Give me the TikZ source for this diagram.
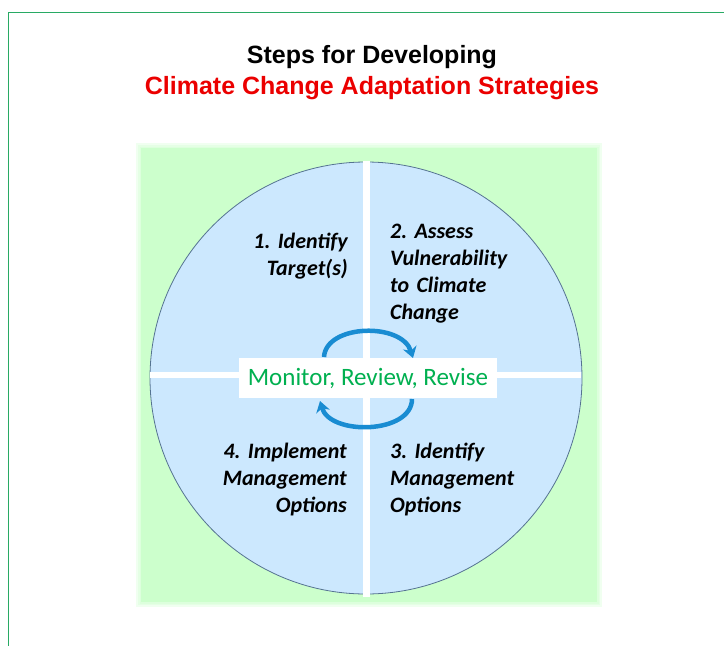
\documentclass[tikz,border=0pt]{standalone}
\usepackage{fontspec}
\setmainfont{Carlito}
\newfontfamily\arialfont{Liberation Sans}
\usetikzlibrary{arrows.meta}
\definecolor{frame}{RGB}{40,170,100}
\definecolor{bggreen}{RGB}{204,255,204}
\definecolor{circblue}{RGB}{204,232,254}
\definecolor{circline}{RGB}{85,115,145}
\definecolor{titlered}{RGB}{235,0,0}
\definecolor{mongreen}{RGB}{0,176,80}
\definecolor{arrblue}{RGB}{25,140,210}
\tikzset{
  steptext/.style={font=\frenchspacing\fontsize{22}{27}\selectfont\bfseries\itshape, inner sep=0pt, text width=130pt},
  titletext/.style={font=\arialfont\bfseries\fontsize{25}{30}\selectfont, inner sep=0pt},
  cyclearrow/.style={arrblue, line width=4.5pt, -{Stealth[length=11pt,width=14pt]}},
  whitebar/.style={fill=white, draw=none}
}
\begin{document}
\begin{tikzpicture}[x=1pt,y=-1pt]
\useasboundingbox (0,0) rectangle (724,646);
% frame lines
\draw[frame, line width=0.7pt] (8,12) -- (724,12);
\draw[frame, line width=0.7pt] (8,12) -- (8,646);
% green background with soft edge
\foreach \e in {5,3,1.5} {
  \fill[bggreen, fill opacity=0.3] (141-\e,148-\e) rectangle (597+\e,602+\e);
}
\fill[bggreen] (141,148) rectangle (597,602);
% circle
\node[circle, draw=circline, line width=0.8pt, fill=circblue, minimum size=432pt, inner sep=0pt] (circ) at (366,378) {};
% white cross
\fill[whitebar] (150,372) rectangle (581,378);
\fill[whitebar] (363,161) rectangle (370,597);
% title
\node[titletext, anchor=base] (t1) at (372,63) {Steps for Developing};
\node[titletext, anchor=base, text=titlered] (t2) at (372,94) {Climate Change Adaptation Strategies};
% steps
\node[steptext, align=right, anchor=base east] (s1) at (348,248) {1. Identify\\Target(s)};
\node[steptext, align=left, anchor=base west] (s2) at (390,238) {2. Assess\\Vulnerability\\to Climate\\Change};
\node[steptext, align=left, anchor=base west] (s3) at (390,458) {3. Identify\\Management\\Options};
\node[steptext, align=right, anchor=base east] (s4) at (347,458) {4. Implement\\Management\\Options};
% arrows
\coordinate (a1s) at (324,357);
\coordinate (a1e) at (413,358);
\coordinate (a2s) at (412,399);
\coordinate (a2e) at (320,401);
\draw[cyclearrow] (a1s) .. controls (326,324) and (402,322) .. (a1e);
\draw[cyclearrow] (a2s) .. controls (412,434) and (330,436) .. (a2e);
% center label
\node[fill=white, minimum width=258pt, minimum height=40pt, inner sep=0pt,
      text=mongreen, font=\fontsize{25}{29}\selectfont] (mon) at (368,378) {Monitor, Review, Revise};
\end{tikzpicture}
\end{document}
